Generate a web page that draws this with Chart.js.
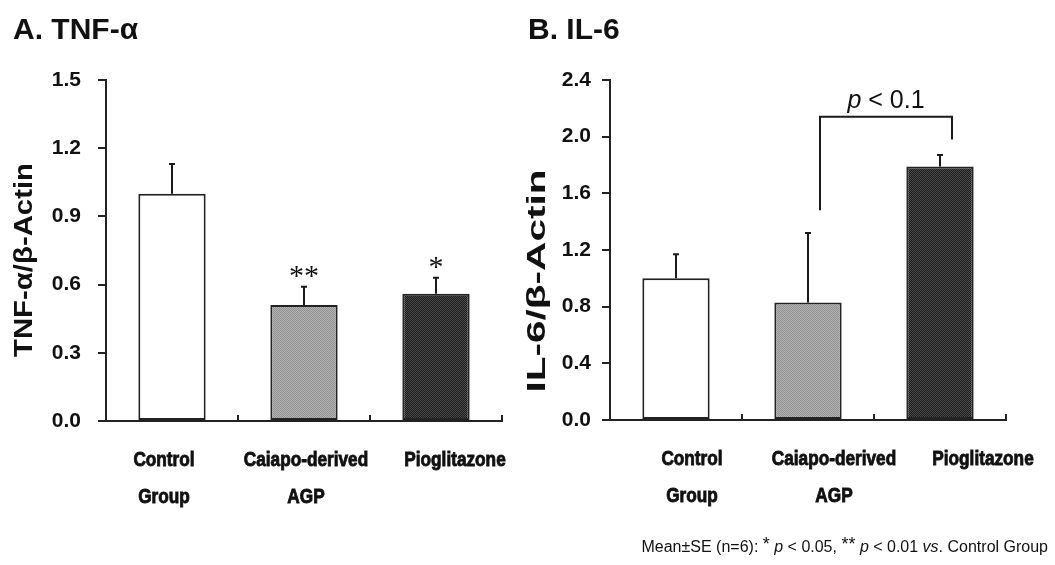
<!DOCTYPE html>
<html>
<head>
<meta charset="utf-8">
<script src="https://cdn.jsdelivr.net/npm/chart.js@4.4.1/dist/chart.umd.min.js"></script>
<style>
body { margin: 0; background: #fff; width: 1055px; height: 565px; overflow: hidden; position: relative; font-family: 'Liberation Sans', Arial, sans-serif; }
#left { position: absolute; left: 0; top: 0; }
#right { position: absolute; left: 520px; top: 0; }
#note { position: absolute; right: 7px; top: 534px; font-size: 16px; color: #111; white-space: nowrap; }
#note sup { font-size: 18px; vertical-align: 2px; }
</style>
</head>
<body>
<canvas id="left" width="520" height="565"></canvas>
<canvas id="right" width="535" height="565"></canvas>
<div id="note">Mean±SE (n=6): <sup>*</sup> <i>p</i> &lt; 0.05, <sup>**</sup> <i>p</i> &lt; 0.01 <i>vs</i>. Control Group</div>
<script>
// data
const categories = [['Control', 'Group'], ['Caiapo-derived', 'AGP'], ['Pioglitazone']];

const tnfMeans = [1.00, 0.51, 0.56];
const tnfErrors = [0.13, 0.08, 0.07];
const tnfStars = ['', '**', '*'];
const tnfTicks = [0.0, 0.3, 0.6, 0.9, 1.2, 1.5];

const il6Means = [1.00, 0.83, 1.79];
const il6Errors = [0.17, 0.49, 0.08];
const il6Stars = ['', '', ''];
const il6Ticks = [0.0, 0.4, 0.8, 1.2, 1.6, 2.0, 2.4];
// bracket between Caiapo AGP and Pioglitazone
const il6Bracket = { from: 1, to: 2, top: 2.14, leftEnd: 1.48, rightEnd: 1.98, label: '< 0.1' };

// dotted fills like the printed bars
function texture(ctx, a, b) {
    const c = document.createElement('canvas');
    c.width = 2; c.height = 2;
    const g = c.getContext('2d');
    g.fillStyle = a; g.fillRect(0, 0, 2, 2);
    g.fillStyle = b; g.fillRect(0, 0, 1, 1); g.fillRect(1, 1, 1, 1);
    return ctx.createPattern(c, 'repeat');
}

const extras = {
    id: 'extras',
    afterDatasetsDraw(chart, args, opts) {
        const ctx = chart.ctx;
        const x = chart.scales.x, y = chart.scales.y;
        ctx.save();
        ctx.strokeStyle = '#1a1a1a';
        ctx.lineWidth = 2;
        // error bars (upper only) + stars
        opts.means.forEach((m, i) => {
            const cx = Math.round(x.getPixelForValue(i));
            const y0 = y.getPixelForValue(m);
            const y1 = y.getPixelForValue(m + opts.errors[i]);
            ctx.beginPath();
            ctx.moveTo(cx, y0); ctx.lineTo(cx, y1);
            ctx.moveTo(cx - 3, y1); ctx.lineTo(cx + 3, y1);
            ctx.stroke();
            if (opts.stars[i]) {
                ctx.fillStyle = '#111';
                ctx.font = '30px "Liberation Serif", serif';
                ctx.textAlign = 'center';
                ctx.textBaseline = 'alphabetic';
                ctx.fillText(opts.stars[i], cx, y1 - 2);
            }
        });
        // p-value bracket
        if (opts.bracket) {
            const b = opts.bracket;
            const xl = x.getPixelForValue(b.from) + 12, xr = x.getPixelForValue(b.to) + 12;
            const yt = y.getPixelForValue(b.top);
            ctx.beginPath();
            ctx.moveTo(xl, y.getPixelForValue(b.leftEnd));
            ctx.lineTo(xl, yt);
            ctx.lineTo(xr, yt);
            ctx.lineTo(xr, y.getPixelForValue(b.rightEnd));
            ctx.stroke();
            ctx.fillStyle = '#111';
            ctx.textBaseline = 'alphabetic';
            ctx.textAlign = 'left';
            ctx.font = 'italic 25px "Liberation Sans", Arial, sans-serif';
            const w1 = ctx.measureText('p ').width;
            ctx.font = '25px "Liberation Sans", Arial, sans-serif';
            const w2 = ctx.measureText(b.label).width;
            let sx = (xl + xr) / 2 - (w1 + w2) / 2;
            ctx.font = 'italic 25px "Liberation Sans", Arial, sans-serif';
            ctx.fillText('p', sx, yt - 9);
            ctx.font = '25px "Liberation Sans", Arial, sans-serif';
            ctx.fillText(b.label, sx + w1, yt - 9);
        }
        ctx.restore();
    },
    afterDraw(chart, args, opts) {
        const ctx = chart.ctx;
        const x = chart.scales.x;
        ctx.save();
        ctx.fillStyle = '#111';
        ctx.strokeStyle = '#111';
        ctx.lineWidth = 0.9;
        // category labels, condensed heavy gothic like the original
        ctx.font = 'bold 21px "Liberation Sans", Arial, sans-serif';
        ctx.textAlign = 'center';
        ctx.textBaseline = 'middle';
        chart.data.labels.forEach((lines, i) => {
            const cx = x.getPixelForValue(i) + opts.labelShift[i];
            lines.forEach((t, k) => {
                ctx.save();
                ctx.translate(cx, x.top + 39 + k * 37);
                ctx.scale(0.82, 1);
                ctx.fillText(t, 0, 0);
                ctx.strokeText(t, 0, 0);
                ctx.restore();
            });
        });
        // panel heading
        ctx.font = 'bold 30px "Liberation Sans", Arial, sans-serif';
        ctx.textAlign = 'left';
        ctx.textBaseline = 'alphabetic';
        ctx.fillText(opts.panel, opts.panelX, 39);
        // y-axis title, stretched like the original
        ctx.font = 'bold 26px "Liberation Sans", Arial, sans-serif';
        const w = ctx.measureText(opts.yTitle).width;
        ctx.translate(opts.titleX, opts.titleY);
        ctx.rotate(-Math.PI / 2);
        ctx.scale(opts.titleLen / w, 1);
        ctx.textAlign = 'center';
        ctx.textBaseline = 'middle';
        ctx.fillText(opts.yTitle, 0, 0);
        ctx.restore();
    }
};

function makeChart(id, means, errors, stars, ticks, bracket, look) {
    const ctx = document.getElementById(id).getContext('2d');
    return new Chart(ctx, {
        type: 'bar',
        data: {
            labels: categories,
            datasets: [{
                data: means,
                backgroundColor: ['#ffffff', texture(ctx, '#b4b4b4', '#909090'), texture(ctx, '#1c1c1c', '#4a4a4a')],
                borderColor: '#222',
                borderWidth: 2,
                borderSkipped: false,
                barPercentage: 0.51,
                categoryPercentage: 1
            }]
        },
        plugins: [extras],
        options: {
            responsive: false,
            animation: false,
            layout: { padding: { left: 0, top: 80, right: look.rightPad, bottom: 565 - look.bottom - 100 } },
            plugins: {
                legend: { display: false },
                tooltip: { enabled: false },
                extras: {
                    means: means, errors: errors, stars: stars, bracket: bracket,
                    panel: look.panel, panelX: look.panelX, yTitle: look.yTitle,
                    titleX: look.titleX, titleY: look.titleY, titleLen: look.titleLen,
                    labelShift: look.labelShift
                }
            },
            scales: {
                x: {
                    afterFit: s => { s.height = 100; },
                    border: { display: true, color: '#222', width: 2 },
                    grid: { offset: true, drawOnChartArea: false, color: '#222', lineWidth: 2, tickLength: -6 },
                    ticks: { display: false }
                },
                y: {
                    min: 0,
                    max: ticks[ticks.length - 1],
                    afterFit: s => { s.width = look.axisX; },
                    afterBuildTicks: s => { s.ticks = ticks.map(v => ({ value: v })); },
                    border: { display: true, color: '#222', width: 2 },
                    grid: { drawOnChartArea: false, color: '#222', lineWidth: 2, tickLength: 8 },
                    ticks: {
                        color: '#111',
                        padding: look.tickPad,
                        callback: v => v.toFixed(1),
                        font: { family: '"Liberation Sans", Arial, sans-serif', weight: 'bold', size: 21 }
                    }
                }
            }
        }
    });
}

makeChart('left', tnfMeans, tnfErrors, tnfStars, tnfTicks, null, {
    panel: 'A. TNF-α', panelX: 13, yTitle: 'TNF-α/β-Actin',
    titleX: 25, titleY: 260, titleLen: 194,
    axisX: 106, tickPad: 17, rightPad: 18, bottom: 421,
    labelShift: [-8, 2, 19]
});
makeChart('right', il6Means, il6Errors, il6Stars, il6Ticks, il6Bracket, {
    panel: 'B. IL-6', panelX: 8, yTitle: 'IL-6/β-Actin',
    titleX: 18, titleY: 281, titleLen: 223,
    axisX: 90, tickPad: 11, rightPad: 49, bottom: 420,
    labelShift: [16, 26, 43]
});
</script>
</body>
</html>
